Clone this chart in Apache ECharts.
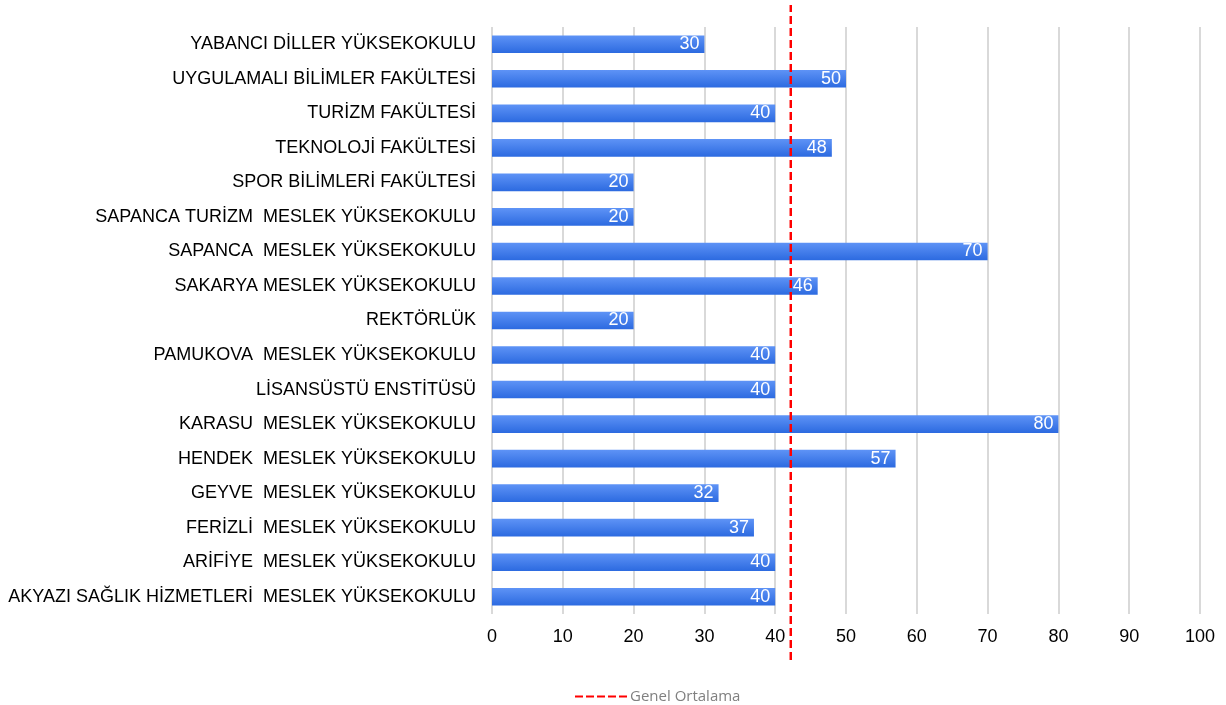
<!DOCTYPE html>
<html>
<head>
<meta charset="utf-8">
<script src="https://cdn.jsdelivr.net/npm/echarts@6/dist/echarts.min.js"></script>
<style>
  html, body { margin: 0; padding: 0; background: #fff; }
  #chart { width: 1226px; height: 705px; }
</style>
</head>
<body>
<div id="chart"></div>
<script>
// birimler (yukarıdan aşağıya)
const categories = [
    'YABANCI DİLLER YÜKSEKOKULU',
    'UYGULAMALI BİLİMLER FAKÜLTESİ',
    'TURİZM FAKÜLTESİ',
    'TEKNOLOJİ FAKÜLTESİ',
    'SPOR BİLİMLERİ FAKÜLTESİ',
    'SAPANCA TURİZM  MESLEK YÜKSEKOKULU',
    'SAPANCA  MESLEK YÜKSEKOKULU',
    'SAKARYA MESLEK YÜKSEKOKULU',
    'REKTÖRLÜK',
    'PAMUKOVA  MESLEK YÜKSEKOKULU',
    'LİSANSÜSTÜ ENSTİTÜSÜ',
    'KARASU  MESLEK YÜKSEKOKULU',
    'HENDEK  MESLEK YÜKSEKOKULU',
    'GEYVE  MESLEK YÜKSEKOKULU',
    'FERİZLİ  MESLEK YÜKSEKOKULU',
    'ARİFİYE  MESLEK YÜKSEKOKULU',
    'AKYAZI SAĞLIK HİZMETLERİ  MESLEK YÜKSEKOKULU'
];
const values = [30, 50, 40, 48, 20, 20, 70, 46, 20, 40, 40, 80, 57, 32, 37, 40, 40];
const average = 42.2;
const averageName = 'Genel Ortalama';

// lejant için kesikli çizgi simgesi
const dashIcon = 'path://M0,0h8v2h-8z M11,0h8v2h-8z M22,0h8v2h-8z M33,0h8v2h-8z M44,0h8v2h-8z';

let chart = echarts.init(document.getElementById('chart'));
chart.setOption({
    animation: false,
    textStyle: { fontFamily: 'Liberation Sans, Arial, sans-serif' },
    legend: {
        data: [{ name: averageName, icon: dashIcon }],
        left: 575,
        top: 688,
        padding: 0,
        itemWidth: 52,
        itemHeight: 2.5,
        itemGap: 4,
        textStyle: {
            color: '#808080',
            fontSize: 15,
            lineHeight: 17,
            fontFamily: 'Open Sans, sans-serif',
            padding: [0, 0, 0, -2]
        }
    },
    grid: [
        { left: 492, right: 26, top: 27, bottom: 91, containLabel: false },
        { left: 492, right: 26, top: 5, bottom: 45, containLabel: false }
    ],
    xAxis: [{
        type: 'value',
        gridIndex: 0,
        min: 0,
        max: 100,
        interval: 10,
        axisLine: { show: false },
        axisTick: { show: false },
        axisLabel: { color: '#000', fontSize: 18, margin: 14 },
        splitLine: { lineStyle: { color: '#d9d9d9', width: 2 } }
    }, {
        type: 'value',
        gridIndex: 1,
        min: 0,
        max: 100,
        show: false
    }],
    yAxis: [{
        type: 'category',
        gridIndex: 0,
        data: categories,
        inverse: true,
        axisLine: { show: false },
        axisTick: { show: false },
        axisLabel: { color: '#000', fontSize: 18, margin: 16 }
    }, {
        type: 'value',
        gridIndex: 1,
        min: 0,
        max: 1,
        show: false
    }],
    series: [{
        type: 'bar',
        xAxisIndex: 0,
        yAxisIndex: 0,
        data: values,
        barWidth: '51%',
        itemStyle: {
            color: new echarts.graphic.LinearGradient(0, 0, 0, 1, [
                { offset: 0, color: '#5e93f6' },
                { offset: 1, color: '#2c6ae0' }
            ])
        },
        label: {
            show: true,
            position: 'insideRight',
            color: '#fff',
            fontSize: 18,
            distance: 5
        }
    }, {
        name: averageName,
        type: 'line',
        xAxisIndex: 1,
        yAxisIndex: 1,
        data: [[average, 0], [average, 1]],
        symbol: 'none',
        lineStyle: { color: '#ff0000', width: 2.5, type: [8, 4] },
        itemStyle: { color: '#ff0000' }
    }]
});
</script>
</body>
</html>
